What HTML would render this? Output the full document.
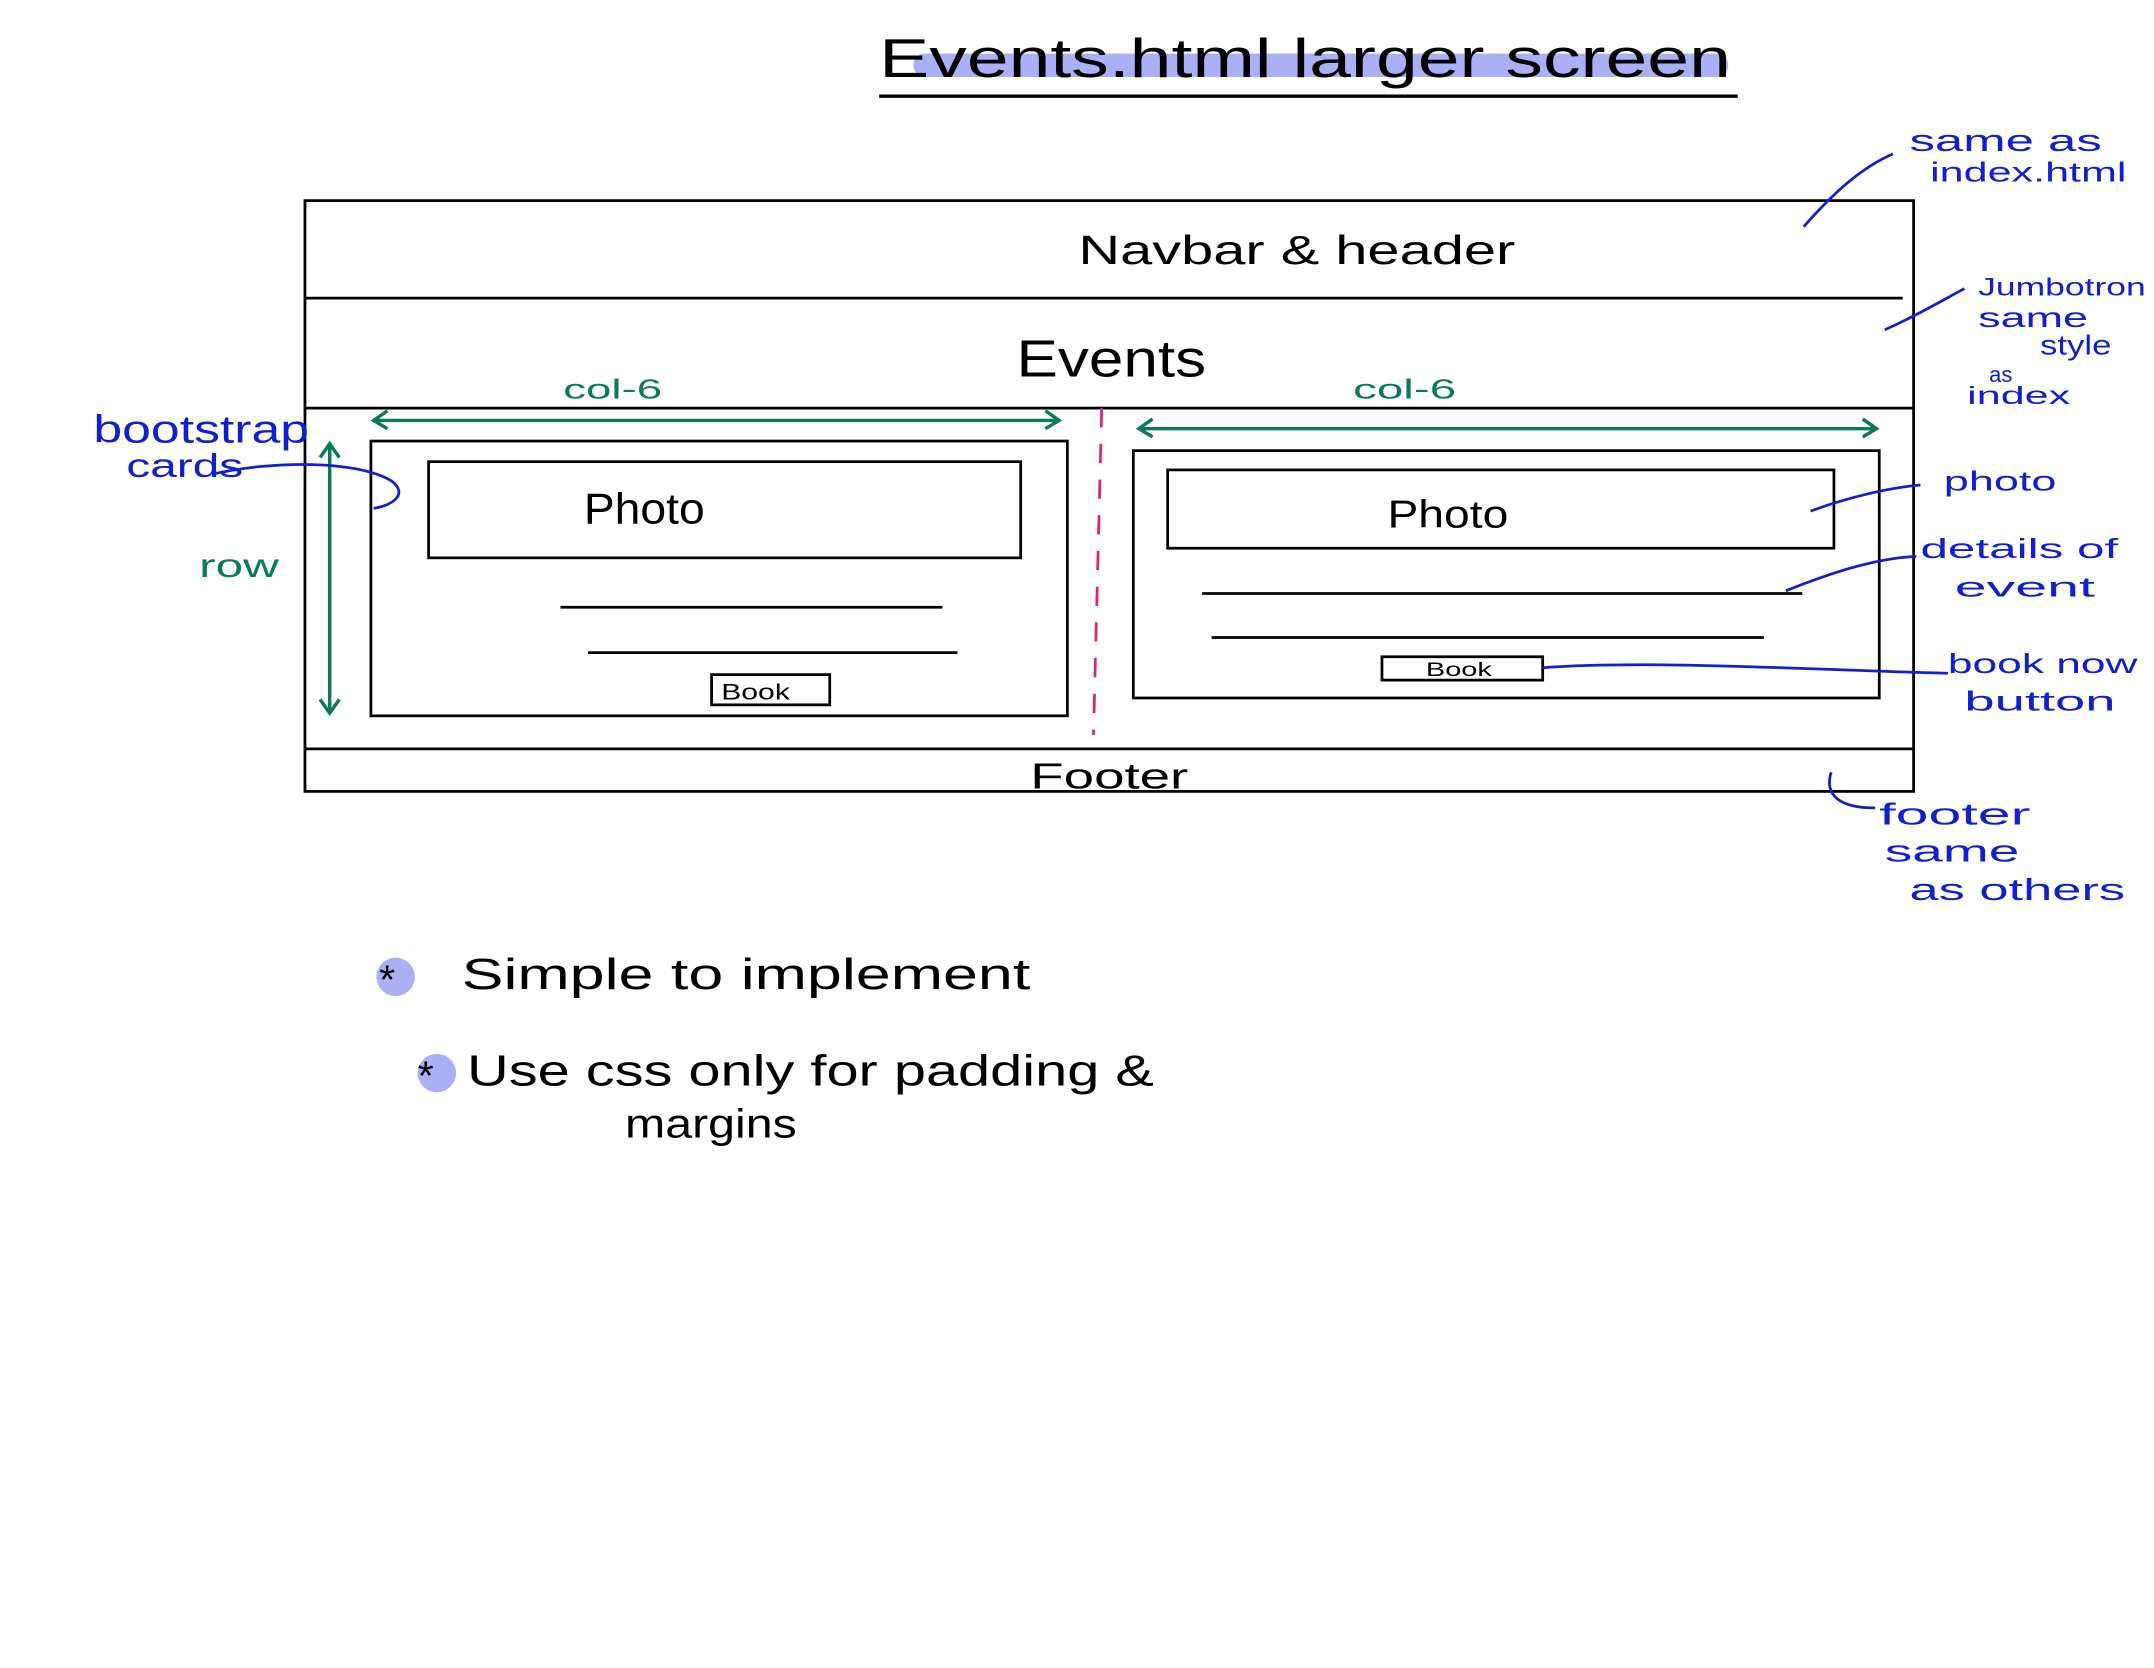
<!DOCTYPE html>
<html><head><meta charset="utf-8"><style>
html,body{margin:0;padding:0;background:#fff;}
svg{display:block;}
text{font-family:"Liberation Sans",sans-serif;}
</style></head><body>
<svg width="2154" height="1668" viewBox="0 0 1568 1214" preserveAspectRatio="none" xmlns="http://www.w3.org/2000/svg">
<rect x="0" y="0" width="1568" height="1214" fill="#fff"/>
<rect x="665" y="39" width="593" height="17" rx="8" fill="#aab0f5"/>
<text x="640" y="56" font-size="40" fill="#000" textLength="620" lengthAdjust="spacingAndGlyphs">Events.html  larger screen</text>
<line x1="640" y1="70" x2="1265" y2="70" stroke="#000" stroke-width="2.5"/>
<g stroke="#000" stroke-width="2" fill="none">
<rect x="222" y="146" width="1171" height="430"/>
<line x1="222" y1="217" x2="1385" y2="217"/>
<line x1="222" y1="297" x2="1393" y2="297"/>
<line x1="222" y1="545" x2="1393" y2="545"/>
<rect x="270" y="321" width="507" height="200"/>
<rect x="312" y="336" width="431" height="70"/>
<line x1="408" y1="442" x2="686" y2="442"/>
<line x1="428" y1="475" x2="697" y2="475"/>
<rect x="518" y="491" width="86" height="22"/>
<rect x="825" y="328" width="543" height="180"/>
<rect x="850" y="342" width="485" height="57"/>
<line x1="875" y1="432" x2="1312" y2="432"/>
<line x1="882" y1="464" x2="1284" y2="464"/>
<rect x="1006" y="478" width="117" height="17"/>
</g>
<g fill="#000" lengthAdjust="spacingAndGlyphs">
<text x="785" y="192" font-size="30" textLength="318" lengthAdjust="spacingAndGlyphs">Navbar &amp; header</text>
<text x="740" y="274" font-size="38" textLength="138" lengthAdjust="spacingAndGlyphs">Events</text>
<text x="425" y="381" font-size="32" textLength="88" lengthAdjust="spacingAndGlyphs">Photo</text>
<text x="1010" y="384" font-size="28" textLength="88" lengthAdjust="spacingAndGlyphs">Photo</text>
<text x="525" y="509" font-size="16" textLength="50" lengthAdjust="spacingAndGlyphs">Book</text>
<text x="1038" y="492" font-size="14" textLength="48" lengthAdjust="spacingAndGlyphs">Book</text>
<text x="750" y="574" font-size="26" textLength="115" lengthAdjust="spacingAndGlyphs">Footer</text>
</g>
<line x1="802" y1="297" x2="796" y2="535" stroke="#e0207a" stroke-width="2" stroke-dasharray="14,12"/>
<g stroke="#0a7a5a" stroke-width="2.5" fill="none">
<line x1="272" y1="306" x2="771" y2="306"/><polyline points="282,299 272,306 282,312"/><polyline points="761,299 771,306 761,312"/>
<line x1="829" y1="312" x2="1366" y2="312"/><polyline points="839,305 829,312 839,318"/><polyline points="1356,305 1366,312 1356,318"/>
<line x1="240" y1="323" x2="240" y2="519"/><polyline points="233,333 240,323 247,333"/><polyline points="233,509 240,519 247,509"/>
</g>
<g fill="#0a7a5a" font-size="20">
<text x="410" y="290" textLength="72" lengthAdjust="spacingAndGlyphs">col-6</text>
<text x="985" y="290" textLength="75" lengthAdjust="spacingAndGlyphs">col-6</text>
<text x="145" y="420" font-size="24" textLength="58" lengthAdjust="spacingAndGlyphs">row</text>
</g>
<g stroke="#1020d0" stroke-width="2" fill="none">
<path d="M155,345 C200,335 260,335 285,350 C298,360 285,368 272,370"/>
<path d="M1313,165 C1335,140 1355,122 1378,112"/>
<path d="M1372,240 C1395,230 1415,218 1430,210"/>
<path d="M1318,372 C1345,362 1375,355 1398,353"/>
<path d="M1300,430 C1330,418 1365,406 1395,405"/>
<path d="M1123,486 C1200,480 1330,488 1418,490"/>
<path d="M1333,562 C1328,578 1338,588 1365,588"/>
</g>
<g fill="#1020d0" font-size="24">
<text x="68" y="322" font-size="28" textLength="157" lengthAdjust="spacingAndGlyphs">bootstrap</text>
<text x="92" y="347" textLength="85" lengthAdjust="spacingAndGlyphs">cards</text>
<text x="1390" y="110" font-size="22" textLength="140" lengthAdjust="spacingAndGlyphs">same as</text>
<text x="1405" y="132" font-size="20" textLength="143" lengthAdjust="spacingAndGlyphs">index.html</text>
<text x="1440" y="215" font-size="18" textLength="122" lengthAdjust="spacingAndGlyphs">Jumbotron</text>
<text x="1440" y="238" font-size="20" textLength="80" lengthAdjust="spacingAndGlyphs">same</text>
<text x="1485" y="258" font-size="20" textLength="52" lengthAdjust="spacingAndGlyphs">style</text>
<text x="1448" y="278" font-size="16">as</text>
<text x="1432" y="294" font-size="18" textLength="75" lengthAdjust="spacingAndGlyphs">index</text>
<text x="1415" y="357" font-size="20" textLength="82" lengthAdjust="spacingAndGlyphs">photo</text>
<text x="1398" y="406" font-size="20" textLength="144" lengthAdjust="spacingAndGlyphs">details of</text>
<text x="1423" y="434" font-size="20" textLength="102" lengthAdjust="spacingAndGlyphs">event</text>
<text x="1418" y="490" font-size="20" textLength="138" lengthAdjust="spacingAndGlyphs">book now</text>
<text x="1430" y="517" font-size="20" textLength="110" lengthAdjust="spacingAndGlyphs">button</text>
<text x="1368" y="600" font-size="22" textLength="110" lengthAdjust="spacingAndGlyphs">footer</text>
<text x="1372" y="627" font-size="22" textLength="98" lengthAdjust="spacingAndGlyphs">same</text>
<text x="1390" y="655" font-size="22" textLength="157" lengthAdjust="spacingAndGlyphs">as others</text>
</g>
<circle cx="288" cy="711" r="14" fill="#aab0f5"/>
<circle cx="318" cy="781" r="14" fill="#aab0f5"/>
<g fill="#000">
<text x="276" y="723" font-size="30">*</text>
<text x="336" y="720" font-size="32" textLength="414" lengthAdjust="spacingAndGlyphs">Simple  to  implement</text>
<text x="304" y="793" font-size="30">*</text>
<text x="340" y="790" font-size="32" textLength="500" lengthAdjust="spacingAndGlyphs">Use  css  only  for padding &amp;</text>
<text x="455" y="828" font-size="30" textLength="125" lengthAdjust="spacingAndGlyphs">margins</text>
</g>
</svg>
</body></html>
